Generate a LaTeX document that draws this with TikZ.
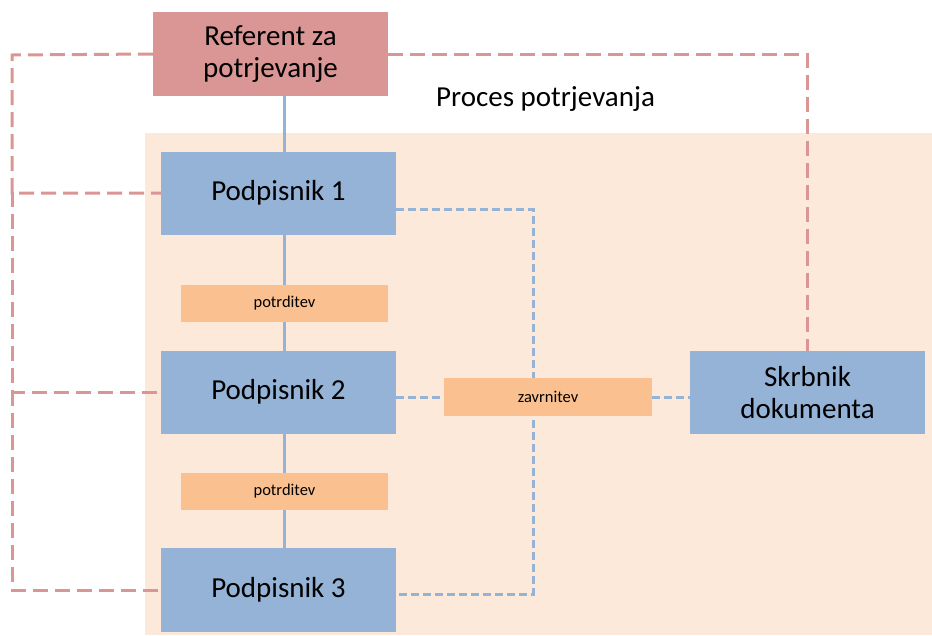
\documentclass[tikz,border=0pt]{standalone}
\usepackage{fontspec}
\setmainfont{Carlito}
\usetikzlibrary{backgrounds}
\definecolor{refred}{HTML}{D99694}
\definecolor{boxblue}{HTML}{95B3D7}
\definecolor{boxorange}{HTML}{FAC090}
\definecolor{procbg}{HTML}{FDE9D9}

\begin{document}
\begin{tikzpicture}[x=1pt,y=-1pt,
                    main node/.style={rectangle,fill=boxblue,minimum width=235pt,minimum height=83pt,inner sep=0pt,align=center,font=\fontsize{29}{32}\selectfont},
                    ref node/.style={main node,fill=refred,minimum height=84pt},
                    small node/.style={rectangle,fill=boxorange,minimum width=207pt,minimum height=37pt,inner sep=0pt,font=\fontsize{16.5}{20}\selectfont},
                    red line/.style={draw=refred,line width=3pt,dash pattern=on 15pt off 7pt},
                    blue line/.style={draw=boxblue,line width=3pt,dash pattern=on 8pt off 4pt},
                    spine/.style={draw=boxblue,line width=2.8pt}]
  \useasboundingbox (0,0) rectangle (932,635);

  \node[ref node] (ref) at (270.5,54) {Referent za\\potrjevanje};
  \node[font=\fontsize{29}{32}\selectfont] (proc) at (545.5,99) {Proces potrjevanja};
  \node[main node] (p1) at (278.5,193) {Podpisnik 1};
  \node[small node] (pot1) at (284.5,303.5) {potrditev};
  \node[main node] (p2) at (278.5,392) {Podpisnik 2};
  \node[small node] (pot2) at (284.5,491.5) {potrditev};
  \node[main node,minimum height=84pt] (p3) at (278.5,590) {Podpisnik 3};
  \node[small node,minimum width=208pt,minimum height=38pt] (zav) at (548,397) {zavrnitev};
  \node[main node] (skr) at (807.5,392.5) {Skrbnik\\dokumenta};

  \coordinate (bus) at (533,0);
  \coordinate (p1r) at ([yshift=-16pt]p1.east);
  \coordinate (p3r) at ([yshift=-4pt]p3.east);
  \coordinate (l0) at (12,55);
  \coordinate (l1) at (12,192);
  \coordinate (l2) at (12,391);

  \begin{scope}[on background layer]
    \fill[procbg] (145,133) rectangle (932,635);
    % potrjevanje
    \path[spine] (ref.south -| pot1) -- (p3.north -| pot1);
    % zavrnitev
    \path[blue line] (p1r) -| (bus |- p3r) -- (p3r);
    \path[blue line] (p2.east |- zav) -- (zav.west);
    \path[blue line] (zav.east) -- (skr.west |- zav);
    % referent
    \path[red line] (ref.east) -| (skr.north);
    \path[red line] (ref.west) -- (l0) |- (p1.west);
    \path[red line] (l1) |- (p2.west);
    \path[red line] (l2) |- (p3.west);
  \end{scope}
\end{tikzpicture}
\end{document}
